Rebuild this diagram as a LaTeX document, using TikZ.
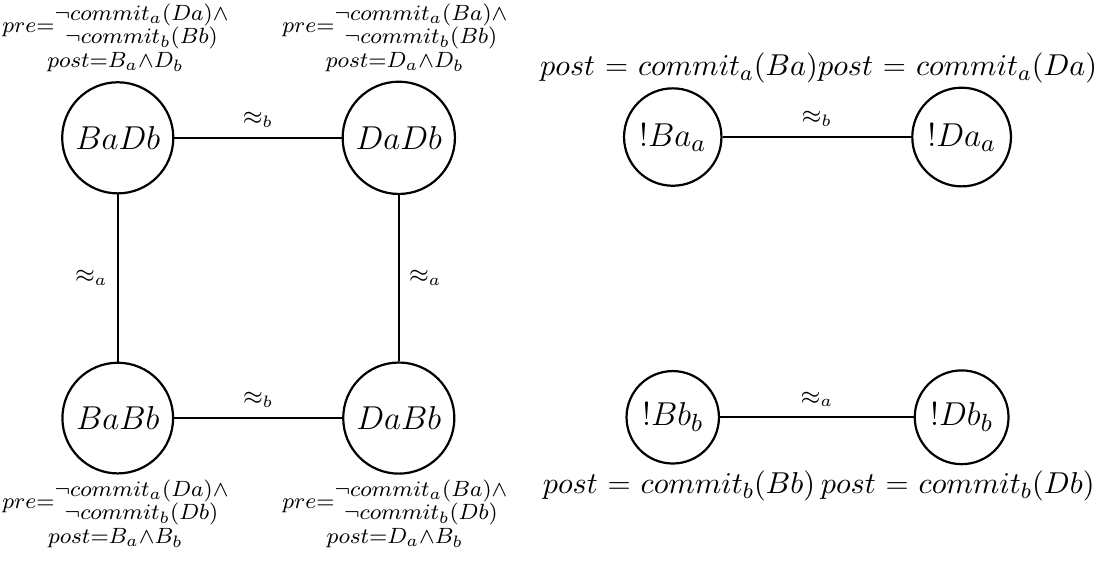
\documentclass[tikz,border=0pt]{standalone}
\begin{document}
\begin{tikzpicture}[world/.style={circle, draw, thick, minimum size=14.1mm, font=\fontsize{13}{15}\selectfont},
  act/.style={circle, draw, thick, minimum size=11.7mm, font=\fontsize{12.5}{15}\selectfont},
  cond/.style={font=\fontsize{8}{7.6}\selectfont, align=center, inner sep=0pt},
  eff/.style={font=\fontsize{11}{13}\selectfont, inner sep=0pt},
  rel/.style={font=\small}]
  \useasboundingbox (0,0) rectangle (14,7.146);
  % worlds
  \node[world] (BaDb) at (1.50, 5.39) {$BaDb$};
  \node[world] (DaDb) at (5.08, 5.39) {$DaDb$};
  \node[world] (BaBb) at (1.50, 1.82) {$BaBb$};
  \node[world] (DaBb) at (5.08, 1.82) {$DaBb$};

  \draw[thick] (BaDb) -- node[rel, above] {$\approx_b$} (DaDb);
  \draw[thick] (BaBb) -- node[rel, above] {$\approx_b$} (DaBb);
  \draw[thick] (BaDb) -- node[rel, left] {$\approx_a$} (BaBb);
  \draw[thick] (DaDb) -- node[rel, right] {$\approx_a$} (DaBb);

  % pre and post conditions
  \node[cond] (cBaDb) at (1.47, 6.66) {$pre$=\begin{tabular}{@{}c@{}}$\neg commit_a(Da)\wedge$\\$\neg commit_b(Bb)$\end{tabular}\\$post$=$B_a{\wedge}D_b$};
  \node[cond] (cDaDb) at (5.03, 6.66) {$pre$=\begin{tabular}{@{}c@{}}$\neg commit_a(Ba)\wedge$\\$\neg commit_b(Bb)$\end{tabular}\\$post$=$D_a{\wedge}D_b$};
  \node[cond] (cBaBb) at (1.47, 0.60) {$pre$=\begin{tabular}{@{}c@{}}$\neg commit_a(Da)\wedge$\\$\neg commit_b(Db)$\end{tabular}\\$post$=$B_a{\wedge}B_b$};
  \node[cond] (cDaBb) at (5.03, 0.60) {$pre$=\begin{tabular}{@{}c@{}}$\neg commit_a(Ba)\wedge$\\$\neg commit_b(Db)$\end{tabular}\\$post$=$D_a{\wedge}B_b$};

  % actions
  \node[act] (Ba) at (8.57, 5.40) {$!Ba_a$};
  \node[act] (Da) at (12.25, 5.40) {$!Da_a$};
  \node[act] (Bb) at (8.57, 1.83) {$!Bb_b$};
  \node[act] (Db) at (12.25, 1.83) {$!Db_b$};

  \draw[thick] (Ba) -- node[rel, above] {$\approx_b$} (Da);
  \draw[thick] (Bb) -- node[rel, above] {$\approx_a$} (Db);

  \node[eff] (pBa) at (8.65, 6.28) {$post$ = $commit_a(Ba)$};
  \node[eff] (pDa) at (12.20, 6.28) {$post$ = $commit_a(Da)$};
  \node[eff] (pBb) at (8.65, 0.96) {$post$ = $commit_b(Bb)$};
  \node[eff] (pDb) at (12.20, 0.96) {$post$ = $commit_b(Db)$};
\end{tikzpicture}
\end{document}
